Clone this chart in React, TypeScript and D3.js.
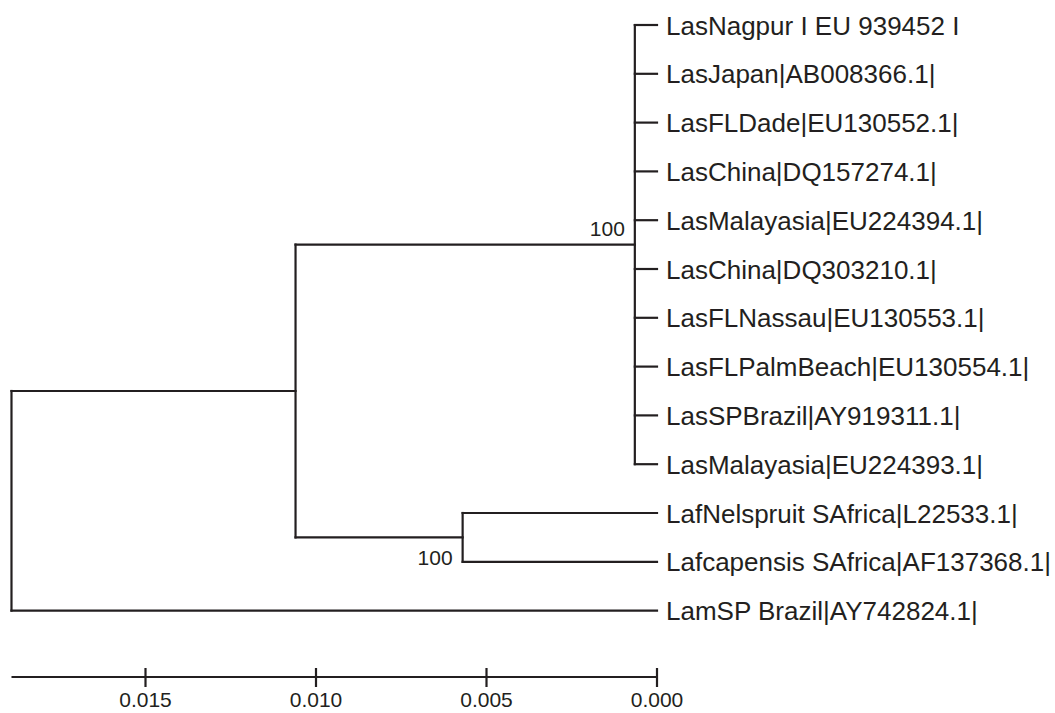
import React from "react";
import * as d3 from "d3";

// Leaf labels, top to bottom
const lasLeaves = [
  "LasNagpur I EU 939452 I",
  "LasJapan|AB008366.1|",
  "LasFLDade|EU130552.1|",
  "LasChina|DQ157274.1|",
  "LasMalayasia|EU224394.1|",
  "LasChina|DQ303210.1|",
  "LasFLNassau|EU130553.1|",
  "LasFLPalmBeach|EU130554.1|",
  "LasSPBrazil|AY919311.1|",
  "LasMalayasia|EU224393.1|",
];
const lafLeaves = [
  "LafNelspruit SAfrica|L22533.1|",
  "Lafcapensis SAfrica|AF137368.1|",
];
const outgroupLeaf = "LamSP Brazil|AY742824.1|";

// Node heights (distance from tips)
const lasCladeHeight = 0.00065;
const lafCladeHeight = 0.0057;
const lasLafHeight = 0.0106;
const rootHeight = 0.01893;

// Bootstrap values
const lasBootstrap = "100";
const lafBootstrap = "100";

// Axis ticks
const axisTicks = [0.015, 0.01, 0.005, 0.0];

type TreeNode = { name?: string; height: number; children?: TreeNode[]; support?: string; supportPos?: string };

const treeData: TreeNode = {
  height: rootHeight,
  children: [
    {
      height: lasLafHeight,
      children: [
        {
          height: lasCladeHeight,
          support: lasBootstrap,
          supportPos: "above",
          children: lasLeaves.map((n) => ({ name: n, height: 0 })),
        },
        {
          height: lafCladeHeight,
          support: lafBootstrap,
          supportPos: "below",
          children: lafLeaves.map((n) => ({ name: n, height: 0 })),
        },
      ],
    },
    { name: outgroupLeaf, height: 0 },
  ],
};

export default function App() {
  const W = 1055;
  const H = 713;
  const x = d3.scaleLinear().domain([0, 0.015]).range([657, 145.5]);
  const root = d3.hierarchy<TreeNode>(treeData);
  const leaves = root.leaves();
  const y = d3
    .scaleLinear()
    .domain([0, leaves.length - 1])
    .range([25, 25 + 48.8 * (leaves.length - 1)]);

  const pos = new Map<any, { x: number; y: number }>();
  leaves.forEach((l, i) => pos.set(l, { x: x(l.data.height), y: y(i) }));
  root.eachAfter((n) => {
    if (n.children) {
      const ys = n.children.map((c) => pos.get(c)!.y);
      pos.set(n, { x: x(n.data.height), y: (ys[0] + ys[ys.length - 1]) / 2 });
    }
  });

  const stroke = "#231f20";
  const sw = 2.2;
  const font = "'Liberation Sans', Arial, Helvetica, sans-serif";
  const paths: string[] = [];
  root.each((n) => {
    if (n.children) {
      const p = pos.get(n)!;
      const ys = n.children.map((c) => pos.get(c)!.y);
      paths.push(`M${p.x},${ys[0]}V${ys[ys.length - 1]}`);
      n.children.forEach((c) => {
        const cp = pos.get(c)!;
        paths.push(`M${p.x},${cp.y}H${cp.x}`);
      });
    }
  });

  const axisY = 677;
  const x0 = pos.get(root)!.x;

  return (
    <svg width={W} height={H} style={{ position: "absolute", left: 0, top: 0, background: "#fff" }}>
      <g fill="none" stroke={stroke} strokeWidth={sw} strokeLinecap="square">
        {paths.map((d, i) => (
          <path key={i} d={d} />
        ))}
      </g>
      {leaves.map((l, i) => (
        <text
          key={i}
          x={pos.get(l)!.x + 9}
          y={pos.get(l)!.y + 9.5}
          fontFamily={font}
          fontSize={26}
          fill="#231f20"
        >
          {l.data.name}
        </text>
      ))}
      {root.descendants()
        .filter((n) => n.data.support)
        .map((n, i) => {
          const p = pos.get(n)!;
          const above = n.data.supportPos === "above";
          return (
            <text
              key={i}
              x={p.x - 10}
              y={above ? p.y - 9 : p.y + 28}
              textAnchor="end"
              fontFamily={font}
              fontSize={21}
              fill="#231f20"
            >
              {n.data.support}
            </text>
          );
        })}
      <g stroke={stroke} strokeWidth={sw} fill="none">
        <path d={`M${x0},${axisY}H${x(0)}`} />
        {axisTicks.map((t, i) => (
          <path key={i} d={`M${x(t)},${axisY - 9}V${axisY + 10}`} />
        ))}
      </g>
      {axisTicks.map((t, i) => (
        <text
          key={i}
          x={x(t)}
          y={707}
          textAnchor="middle"
          fontFamily={font}
          fontSize={21}
          fill="#231f20"
        >
          {d3.format(".3f")(t)}
        </text>
      ))}
    </svg>
  );
}
